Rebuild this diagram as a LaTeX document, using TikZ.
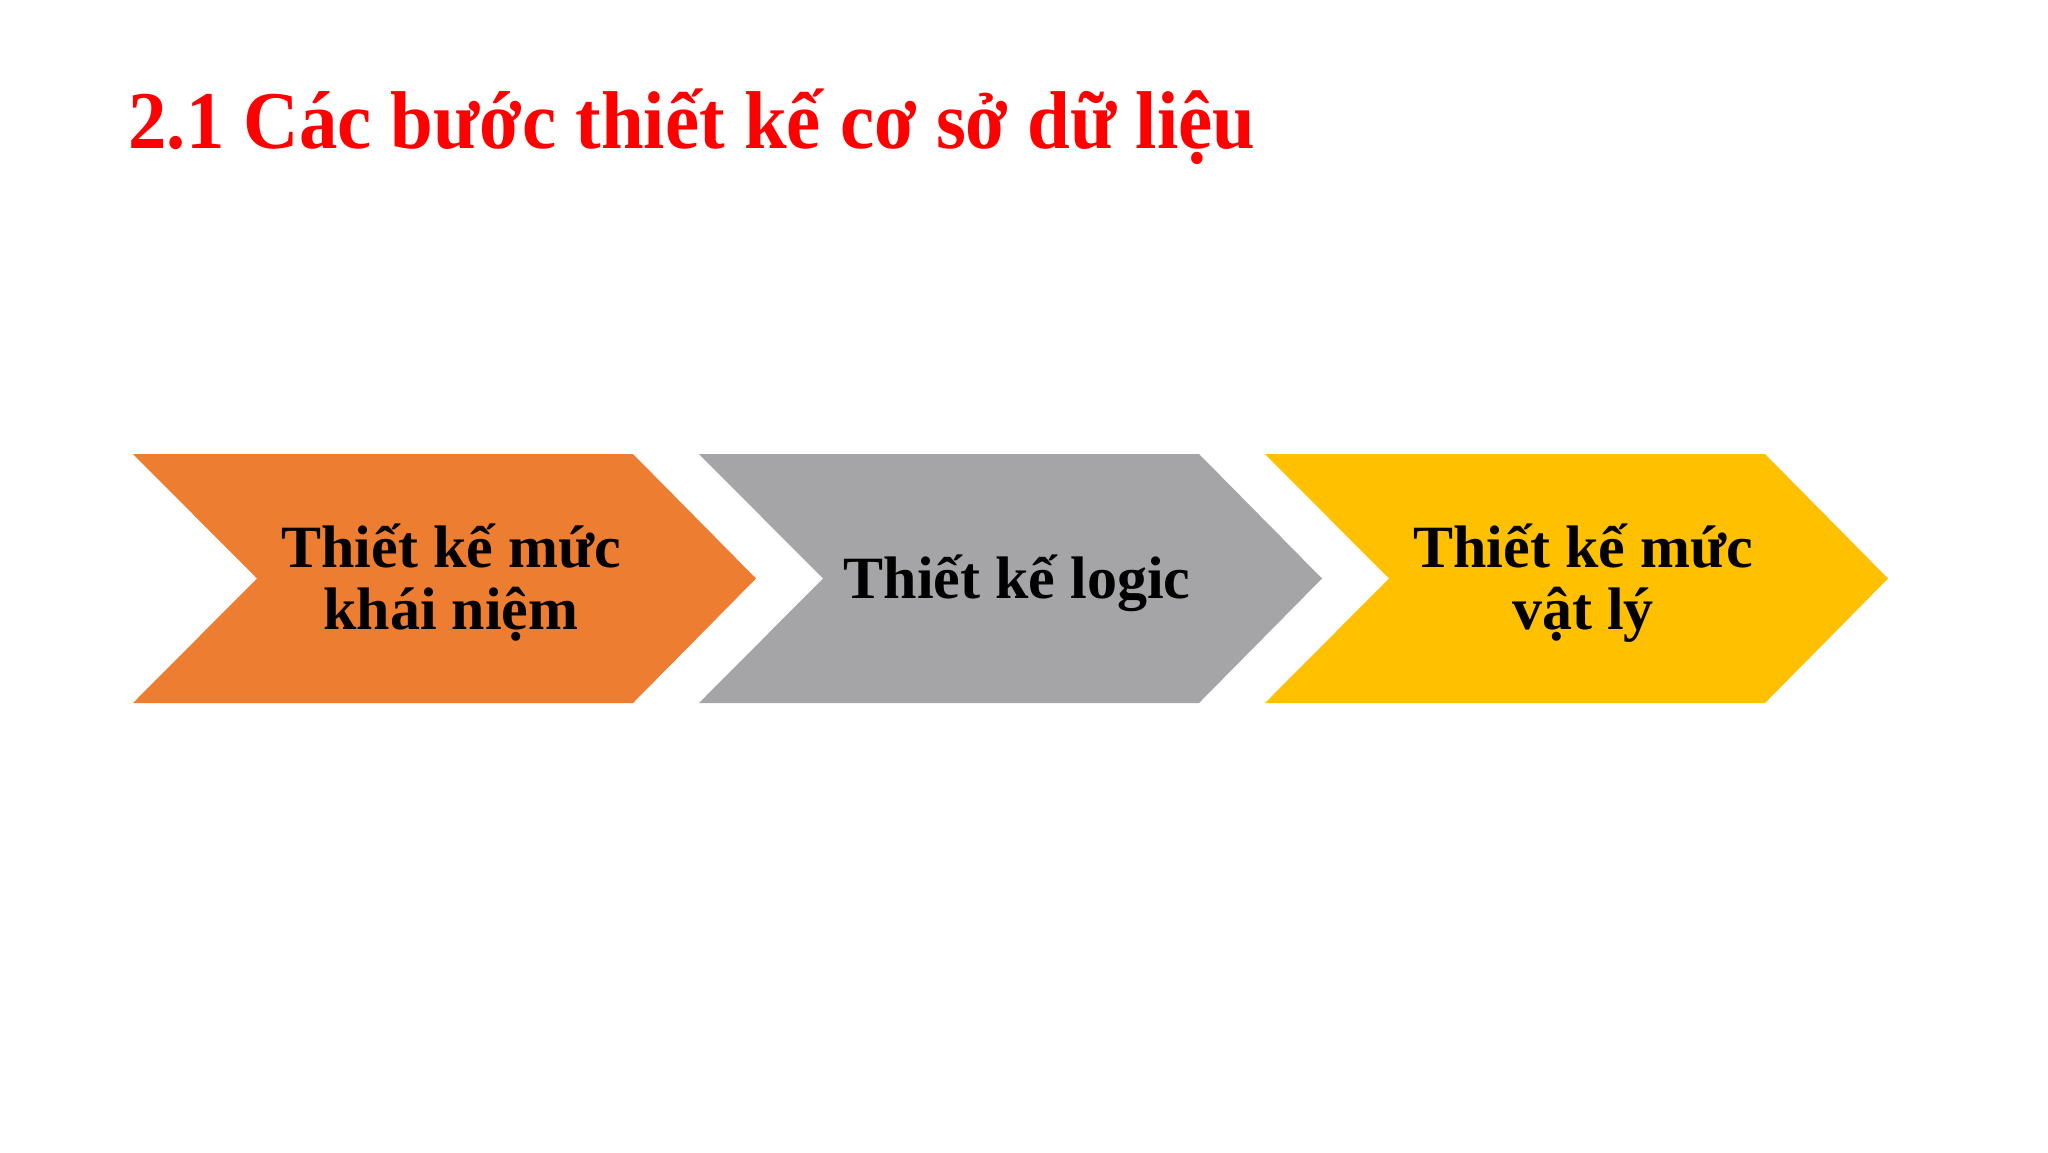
\documentclass[tikz,border=0pt]{standalone}
\usepackage{fontspec}
\setmainfont{Liberation Serif}
\newfontfamily\titlefont{Liberation Serif}[FakeStretch=0.937]
\definecolor{stepOrange}{HTML}{ED7D31}
\definecolor{stepGray}{HTML}{A5A5A8}
\definecolor{stepGold}{HTML}{FFC000}
\tikzset{
  steplabel/.style={font=\bfseries\fontsize{30}{31}\selectfont,align=center,text=black},
}
\begin{document}
\begin{tikzpicture}[x=0.5pt,y=-0.5pt]
      \fill[white] (0,0) rectangle (2048,1152);
      \node[anchor=base west,text=red,inner sep=0pt,font=\titlefont\bfseries\fontsize{41}{41}\selectfont] (title) at (128,148) {2.1 Các bước thiết kế cơ sở dữ liệu};
      % chevrons
      \foreach \x/\col/\name in {133/stepOrange/s1, 699/stepGray/s2, 1265/stepGold/s3}{
        \fill[\col] (\x,454) -- ++(500,0) -- ++(123,124.5) -- ++(-123,124.5) -- ++(-500,0) -- ++(124,-124.5) -- cycle;
        \coordinate (\name) at (\x+318,583);
      }
      \node[steplabel] (t1) at (s1) {Thiết kế mức\\khái niệm};
      \node[steplabel] (t2) at (s2) {Thiết kế logic};
      \node[steplabel] (t3) at (s3) {Thiết kế mức\\vật lý};
    \end{tikzpicture}
\end{document}
